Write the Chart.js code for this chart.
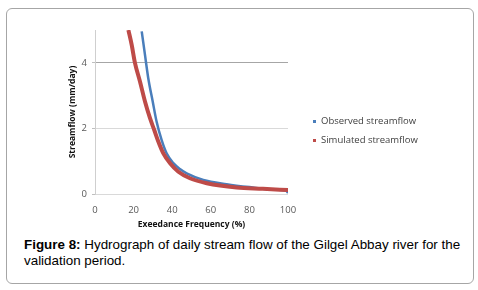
<!DOCTYPE html>
<html lang="en">
<head>
    <meta charset="UTF-8">
    <title>Figure 8 - Flow duration curve</title>
    <script src="https://cdn.jsdelivr.net/npm/chart.js"></script>
    <style>
        body {
            margin: 0;
            width: 478px;
            height: 290px;
            background: #fff;
            position: relative;
            overflow: hidden;
        }

        /* cadre arrondi autour de la figure */
        .frame {
            position: absolute;
            left: 6px;
            top: 8px;
            width: 466px;
            height: 274px;
            border: 1.5px solid #a6a6a6;
            border-radius: 6px;
        }

        .chart-box {
            position: absolute;
            left: 0;
            top: 0;
            width: 478px;
            height: 234px;
        }

        .legend {
            position: absolute;
            left: 313px;
            top: 111px;
            font-family: "Open Sans", sans-serif;
            font-size: 9.5px;
            color: #404040;
            line-height: 19px;
        }

        .legend span.mark {
            display: inline-block;
            width: 3px;
            height: 3px;
            margin-right: 5px;
            vertical-align: middle;
        }

        .caption {
            position: absolute;
            left: 24px;
            top: 237px;
            width: 445px;
            font-family: "Liberation Sans", Arial, sans-serif;
            font-size: 13.4px;
            line-height: 16px;
            color: #000;
        }
    </style>
</head>
<body>
    <div class="frame"></div>

    <div class="chart-box">
        <canvas id="fdc"></canvas>
    </div>

    <div class="legend" id="legend"></div>

    <div class="caption"><b>Figure 8:</b> Hydrograph of daily stream flow of the Gilgel Abbay river for the validation period.</div>

    <script>
        // valeurs
        const seriesNames = ['Observed streamflow', 'Simulated streamflow'];
        const seriesColors = ['#4a7ebb', '#be4b48'];

        const obsX = [24.2, 25.9, 27.6, 29.9, 31.9, 34.5, 37.1, 40.6, 44, 47.5, 56.1, 68.2, 80, 92, 99, 100];
        const obsY = [4.96, 4.24, 3.53, 2.82, 2.21, 1.65, 1.24, 0.94, 0.76, 0.63, 0.43, 0.3, 0.21, 0.14, 0.1, 0.03];

        const simX = [17.3, 19.0, 20.7, 23.3, 25.9, 28.5, 30.7, 32.8, 35.4, 38.9, 43.2, 49.2, 57.9, 73.4, 87, 100];
        const simY = [5.0, 4.55, 4.0, 3.43, 2.82, 2.31, 1.95, 1.6, 1.24, 0.94, 0.68, 0.48, 0.33, 0.2, 0.16, 0.12];

        const xTicks = [0, 20, 40, 60, 80, 100];
        const yTicks = [0, 2, 4];

        function toPoints(xs, ys) {
            return xs.map((x, i) => ({ x: x, y: ys[i] }));
        }

        // légende en HTML
        const legend = document.getElementById('legend');
        seriesNames.forEach((name, i) => {
            const row = document.createElement('div');
            row.innerHTML = '<span class="mark" style="background:' + seriesColors[i] + '"></span>' + name;
            legend.appendChild(row);
        });

        const tickFont = { family: 'Open Sans', size: 9.5 };
        const titleFont = { family: 'Open Sans', size: 8.5, weight: 'bold' };

        const ctx = document.getElementById('fdc').getContext('2d');
        new Chart(ctx, {
            type: 'line',
            data: {
                datasets: [
                    {
                        label: seriesNames[0],
                        data: toPoints(obsX, obsY),
                        borderColor: seriesColors[0],
                        borderWidth: 2.5,
                        pointRadius: 0,
                        cubicInterpolationMode: 'monotone',
                        order: 1
                    },
                    {
                        label: seriesNames[1],
                        data: toPoints(simX, simY),
                        borderColor: seriesColors[1],
                        borderWidth: 4,
                        pointRadius: 0,
                        cubicInterpolationMode: 'monotone',
                        order: 0
                    }
                ]
            },
            options: {
                responsive: true,
                maintainAspectRatio: false,
                animation: false,
                layout: {
                    padding: { left: 63, right: 190, top: 30, bottom: 0 }
                },
                plugins: {
                    legend: { display: false },
                    tooltip: { enabled: false }
                },
                scales: {
                    x: {
                        type: 'linear',
                        min: 0,
                        max: 100,
                        afterBuildTicks: (s) => { s.ticks = xTicks.map(v => ({ value: v })); },
                        afterFit: (s) => { s.height = 40; },
                        grid: { display: false },
                        border: { display: false },
                        ticks: { font: tickFont, color: '#595959', padding: 3, maxRotation: 0 },
                        title: { display: true, text: 'Exeedance Frequency (%)', font: titleFont, color: '#111' }
                    },
                    y: {
                        min: 0,
                        max: 5,
                        afterBuildTicks: (s) => { s.ticks = yTicks.map(v => ({ value: v })); },
                        afterFit: (s) => { s.width = 32; },
                        grid: {
                            color: (c) => c.tick && c.tick.value === 4 ? '#a6a6a6' : '#d9d9d9',
                            tickColor: '#bfbfbf',
                            tickLength: 3
                        },
                        border: { color: '#cfcfcf' },
                        ticks: { font: tickFont, color: '#595959', padding: 5 },
                        title: { display: true, text: 'Streamflow (mm/day)', font: titleFont, color: '#111' }
                    }
                }
            }
        });
    </script>
</body>
</html>
